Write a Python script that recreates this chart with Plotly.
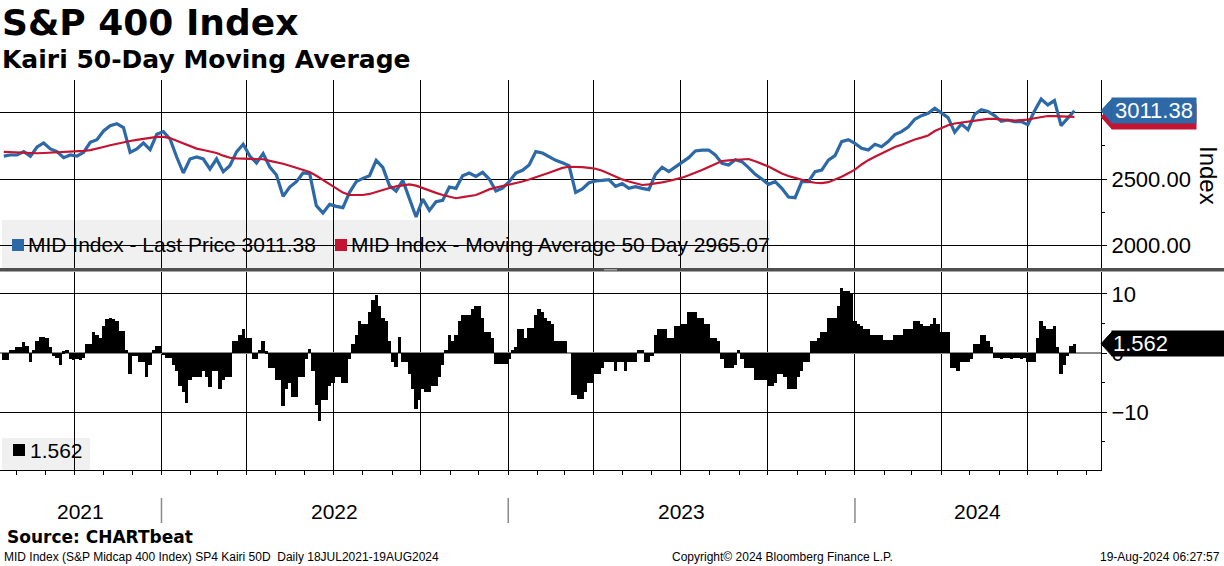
import pandas as pd
import plotly.graph_objects as go

# ---------------- data ----------------
# weekly samples of the index and its 50-day moving average
dates = pd.date_range(end="2024-08-19", periods=162, freq="7D")

price = [2672, 2680, 2680, 2705, 2670, 2740, 2770, 2725, 2705, 2660,
         2680, 2672, 2700, 2775, 2795, 2860, 2900, 2915, 2885, 2700,
         2725, 2770, 2720, 2835, 2855, 2800, 2665, 2545, 2650, 2665,
         2650, 2575, 2650, 2555, 2600, 2703, 2760, 2672, 2620, 2690,
         2590, 2530, 2370, 2440, 2480, 2545, 2540, 2300, 2245, 2310,
         2295, 2285, 2400, 2480, 2505, 2525, 2640, 2587, 2450, 2410,
         2490, 2350, 2215, 2350, 2265, 2330, 2340, 2440, 2430, 2525,
         2545, 2520, 2550, 2500, 2410, 2432, 2480, 2545, 2565, 2605,
         2705, 2695, 2670, 2640, 2622, 2600, 2400, 2425, 2472, 2485,
         2490, 2495, 2445, 2465, 2430, 2442, 2430, 2420, 2535, 2588,
         2555, 2592, 2625, 2660, 2710, 2717, 2717, 2680, 2617, 2605,
         2645, 2630, 2585, 2535, 2500, 2460, 2480, 2430, 2365, 2360,
         2480, 2480, 2555, 2567, 2642, 2675, 2780, 2795, 2767, 2730,
         2718, 2760, 2742, 2780, 2833, 2855, 2890, 2948, 2975, 2992,
         3030, 2995, 2960, 2850, 2912, 2870, 2985, 3020, 3007, 2975,
         2932, 2942, 2930, 2930, 2907, 3010, 3100, 3055, 3088, 2900,
         2960, 3011.38]

ma50 = [2703, 2700, 2697, 2695, 2692, 2693, 2695, 2697, 2698, 2700,
        2704, 2707, 2711, 2716, 2726, 2740, 2753, 2765, 2776, 2785,
        2793, 2801, 2808, 2815, 2815, 2807, 2787, 2766, 2745, 2728,
        2717, 2706, 2695, 2675, 2659, 2654, 2653, 2652, 2651, 2648,
        2636, 2626, 2614, 2599, 2584, 2569, 2552, 2524, 2494, 2465,
        2430, 2398, 2380, 2380, 2380, 2388, 2404, 2419, 2433, 2445,
        2454, 2460, 2450, 2430, 2412, 2396, 2380, 2366, 2356, 2364,
        2372, 2380, 2401, 2422, 2436, 2446, 2457, 2467, 2481, 2496,
        2511, 2530, 2547, 2565, 2583, 2592, 2592, 2589, 2583, 2577,
        2562, 2539, 2515, 2497, 2481, 2467, 2455, 2460, 2465, 2475,
        2485, 2495, 2510, 2528, 2546, 2567, 2590, 2612, 2635, 2639,
        2643, 2646, 2650, 2633, 2615, 2593, 2567, 2541, 2522, 2507,
        2494, 2480, 2472, 2469, 2476, 2495, 2517, 2543, 2570, 2609,
        2641, 2666, 2691, 2714, 2740, 2757, 2779, 2796, 2810, 2826,
        2860, 2884, 2903, 2916, 2923, 2930, 2938, 2945, 2950, 2950,
        2947, 2940, 2938, 2941, 2945, 2955, 2965, 2972, 2972, 2971,
        2968, 2965.07]

# half-weekly samples of the Kairi (% distance from the 50-day MA)
kairi_dates = pd.date_range(end="2024-08-19", periods=323, freq="84h")
kairi = [-1.2, -1.2, 0.5, 0.5, 1.0, 1.0, 1.8, 1.2, -1.5, 0.5,
         2.0, 2.8, 2.8, 2.5, 1.0, -0.5, -0.8, -2.0, 0.3, 0.5,
         -1.0, -1.2, -1.0, -1.2, -0.8, 1.5, 1.5, 3.5, 3.0, 2.5,
         4.5, 5.8, 6.0, 5.8, 5.5, 3.7, 3.7, 0.5, -3.5, -0.5,
         -0.5, -1.5, -1.5, -4.0, -2.0, 0.5, 1.2, 1.2, -0.3, -0.8,
         -0.8, -2.0, -3.0, -5.5, -6.5, -8.5, -4.5, -4.0, -4.0, -4.0,
         -3.0, -4.0, -5.8, -3.0, -3.0, -6.0, -4.5, -4.0, -4.0, 2.0,
         2.0, 3.0, 4.0, 2.5, 2.5, -1.0, -1.0, 0.5, 2.0, 0.3,
         -2.5, -2.5, -4.5, -4.5, -9.0, -6.0, -5.0, -7.5, -7.5, -4.0,
         -4.0, -1.0, 0.7, -3.0, -8.8, -11.5, -8.0, -8.0, -5.5, -5.0,
         -4.0, -4.0, -5.0, -5.0, -1.0, 1.5, 3.0, 5.5, 5.0, 5.0,
         7.0, 9.0, 9.8, 8.0, 6.0, 5.5, 2.0, -1.5, -2.3, 2.8,
         -1.5, -1.5, -3.5, -6.0, -9.5, -8.0, -6.0, -6.5, -6.5, -5.5,
         -5.5, -4.0, -2.0, 0.5, 3.0, 2.0, 3.0, 5.5, 6.5, 6.5,
         6.5, 7.5, 8.0, 8.0, 6.0, 3.5, 3.5, 2.5, -1.8, -1.8,
         -1.8, -1.8, -1.0, 0.5, 1.0, 4.0, 4.0, 2.5, 4.3, 4.3,
         6.5, 7.5, 7.0, 6.0, 5.5, 5.0, 2.0, 2.0, 2.0, 2.0,
         0.0, -7.0, -7.0, -7.8, -7.8, -6.5, -5.0, -5.0, -3.5, -3.5,
         -2.5, -1.5, -1.5, -1.5, -3.0, -1.5, -1.5, -3.0, -1.5, -1.5,
         -1.5, 0.5, 0.5, -1.5, -1.5, -0.5, 3.0, 4.0, 4.0, 4.0,
         2.5, 2.5, 4.5, 4.5, 5.0, 5.0, 7.0, 7.0, 7.0, 6.0,
         6.0, 5.0, 5.0, 2.5, 2.5, 2.0, -1.0, -2.5, -2.5, -2.5,
         -2.0, 0.5, -1.0, -2.5, -2.5, -2.5, -4.5, -4.5, -4.5, -4.5,
         -5.5, -5.5, -5.0, -3.5, -3.5, -4.0, -6.0, -6.0, -6.0, -4.0,
         -3.0, -1.5, -1.5, 2.0, 2.0, 2.5, 3.5, 3.5, 6.0, 6.0,
         6.0, 8.0, 11.0, 10.5, 10.5, 10.0, 5.5, 5.0, 4.5, 4.0,
         4.0, 3.0, 3.0, 3.0, 3.0, 2.2, 2.2, 2.2, 3.0, 3.0,
         3.0, 4.0, 4.0, 4.0, 5.5, 5.5, 5.0, 4.5, 4.5, 5.0,
         6.0, 5.0, 3.5, 3.5, 3.5, -2.5, -2.5, -3.0, -1.5, -1.5,
         -1.5, -1.0, 1.5, 1.5, 3.0, 3.0, 2.0, 1.0, -0.8, -0.8,
         -1.0, -0.8, -0.8, -1.0, -0.8, -0.8, -1.0, -0.8, -1.5, -1.5,
         -1.5, 2.5, 5.5, 4.5, 4.0, 4.0, 4.5, 1.0, -3.5, -2.0,
         -0.5, 1.2, 1.562]

years = [2021, 2022, 2023, 2024]
x_range = ["2021-07-15", "2024-09-16"]
price_ticks = [2000, 2500, 3000]
price_ticktext = ["2000.00", "2500.00", ""]   # 3000 label sits under the value tag
kairi_ticks = [-10, 0, 10]

title = "S&amp;P 400 Index"
subtitle = "Kairi 50-Day Moving Average"
source = "Source: CHARTbeat"
footer_left = "MID Index (S&amp;P Midcap 400 Index) SP4 Kairi 50D  Daily 18JUL2021-19AUG2024"
footer_mid = "Copyright\u00a9 2024 Bloomberg Finance L.P."
footer_right = "19-Aug-2024 06:27:57"

# ---------------- styling helpers ----------------
W, H = 1224, 566
def px(x):
    return x / W
def py(y):
    return 1 - y / H

BLUE = "#2c69a6"
RED = "#c31432"
SANS = "Liberation Sans"
BOLD = "DejaVu Sans"

fig = go.Figure()
fig.add_trace(go.Scatter(x=dates, y=price, mode="lines", line=dict(color=BLUE, width=3.2),
                         xaxis="x", yaxis="y"))
fig.add_trace(go.Scatter(x=dates, y=ma50, mode="lines", line=dict(color=RED, width=2.2),
                         xaxis="x", yaxis="y"))
fig.add_trace(go.Bar(x=kairi_dates, y=kairi, width=3.5 * 86400000,
                     marker=dict(color="black", line=dict(width=0)),
                     xaxis="x2", yaxis="y2"))

xcommon = dict(domain=[0, px(1101)], range=x_range, type="date", showgrid=True,
               gridcolor="black", gridwidth=1, dtick="M3", tick0="2021-01-01",
               showticklabels=False, zeroline=False)
tickfont = dict(family=SANS, size=22, color="black")

fig.update_layout(
    width=W, height=H, margin=dict(l=0, r=0, t=0, b=0),
    paper_bgcolor="white", plot_bgcolor="rgba(0,0,0,0)",
    showlegend=False, bargap=0, hovermode=False,
    xaxis=dict(anchor="y", ticks="", showline=False, **xcommon),
    xaxis2=dict(anchor="y2", ticks="outside", ticklen=4, tickcolor="black",
                showline=True, linecolor="black", linewidth=1,
                minor=dict(dtick="M1", tick0="2021-01-01", ticks="outside", ticklen=4,
                           tickcolor="black", showgrid=False),
                **xcommon),
    yaxis=dict(domain=[py(268), py(80)], anchor="x", side="right", range=[1833, 3242],
               tickvals=price_ticks, ticktext=price_ticktext, showgrid=True,
               gridcolor="black", gridwidth=1, zeroline=False, showline=True,
               linecolor="black", ticks="outside", ticklen=5, tickcolor="black",
               tickfont=tickfont,
               minor=dict(dtick=250, tick0=2000, ticks="outside", ticklen=3,
                          tickcolor="black", showgrid=False)),
    yaxis2=dict(domain=[py(470), py(272)], anchor="x2", side="right", range=[-19.75, 13.7],
                tickvals=kairi_ticks, showgrid=True, gridcolor="black", gridwidth=1,
                zeroline=True, zerolinecolor="#8a8a8a", zerolinewidth=2,
                showline=True, linecolor="black", ticks="outside", ticklen=5,
                tickcolor="black", tickfont=tickfont,
                minor=dict(dtick=5, tick0=0, ticks="outside", ticklen=3,
                           tickcolor="black", showgrid=False)),
)

shapes = []
# legend boxes
shapes.append(dict(type="rect", xref="paper", yref="paper", x0=px(2), x1=px(770),
                   y0=py(268), y1=py(220), fillcolor="#f0f0f0", line=dict(width=0),
                   layer="below"))
shapes.append(dict(type="rect", xref="paper", yref="paper", x0=px(2), x1=px(90),
                   y0=py(470), y1=py(438), fillcolor="#f0f0f0", line=dict(width=0),
                   layer="below"))
# legend colour keys
for x0, yc, col in [(12, 245, BLUE), (335, 245, RED), (13, 450, "black")]:
    shapes.append(dict(type="rect", xref="paper", yref="paper", x0=px(x0), x1=px(x0 + 12),
                       y0=py(yc + 6), y1=py(yc - 6), fillcolor=col, line=dict(width=0)))
# panel separator
shapes.append(dict(type="rect", xref="paper", yref="paper", x0=0, x1=1,
                   y0=py(271.5), y1=py(268), fillcolor="#4f4f4f", line=dict(width=0)))
shapes.append(dict(type="line", xref="paper", yref="paper", x0=px(604), x1=px(617),
                   y0=py(269.8), y1=py(269.8), line=dict(color="#c8c8c8", width=1)))
# year separators below the axis
for yr in years[1:]:
    shapes.append(dict(type="line", xref="x2", yref="paper", x0=f"{yr}-01-01", x1=f"{yr}-01-01",
                       y0=py(523), y1=py(498), line=dict(color="#8a8a8a", width=1.5)))
# tag pointers
for yval, yref, col in [(ma50[-1], "y", RED), (price[-1], "y", BLUE), (kairi[-1], "y2", "black")]:
    shapes.append(dict(type="path", xref="paper", yref=yref, xsizemode="pixel",
                       ysizemode="pixel", xanchor=px(1101), yanchor=yval,
                       path="M0,0 L11,12 L11,-12 Z", fillcolor=col,
                       line=dict(color=col, width=1)))
fig.update_layout(shapes=shapes)

ann = []
ann.append(dict(text=f"<b>{title}</b>", x=px(0), y=py(23), xref="paper", yref="paper",
                xanchor="left", yanchor="middle", showarrow=False,
                font=dict(family=BOLD, size=36, color="black")))
ann.append(dict(text=f"<b>{subtitle}</b>", x=px(0), y=py(60), xref="paper", yref="paper",
                xanchor="left", yanchor="middle", showarrow=False,
                font=dict(family=BOLD, size=25, color="black")))
legfont = dict(family=SANS, size=21, color="black")
ann.append(dict(text=f"MID Index - Last Price {price[-1]:.2f}",
                x=px(26), y=py(245), xref="paper", yref="paper", xanchor="left",
                yanchor="middle", showarrow=False, font=legfont))
ann.append(dict(text=f"MID Index - Moving Average 50 Day {ma50[-1]:.2f}",
                x=px(349), y=py(245), xref="paper", yref="paper", xanchor="left",
                yanchor="middle", showarrow=False, font=legfont))
ann.append(dict(text=f"{kairi[-1]:.3f}", x=px(28), y=py(450),
                xref="paper", yref="paper", xanchor="left", yanchor="middle",
                showarrow=False, font=legfont))
# value tags
tagfont = dict(family=SANS, size=22, color="white")
ann.append(dict(text="", x=px(1111), y=ma50[-1], xref="paper", yref="y",
                xanchor="left", yanchor="middle", showarrow=False, bgcolor=RED,
                borderpad=1, width=82, height=23, font=tagfont))
ann.append(dict(text=f"{price[-1]:.2f}", x=px(1111), y=price[-1], xref="paper", yref="y",
                xanchor="left", yanchor="middle", showarrow=False, bgcolor=BLUE,
                borderpad=1, width=82, height=23, font=tagfont))
ann.append(dict(text=f"{kairi[-1]:.3f}", x=px(1111), y=kairi[-1], xref="paper", yref="y2",
                xanchor="left", yanchor="middle", showarrow=False, bgcolor="black",
                borderpad=1, width=113, height=23, align="left", font=tagfont))
ann.append(dict(text="Index", x=px(1209), y=py(175), xref="paper", yref="paper",
                xanchor="center", yanchor="middle", textangle=90, showarrow=False,
                font=dict(family=SANS, size=24, color="black")))
# year labels centred in each visible year span
start, end = pd.Timestamp(x_range[0]), pd.Timestamp(x_range[1])
for yr in years:
    a = max(start, pd.Timestamp(f"{yr}-01-01"))
    b = min(end, pd.Timestamp(f"{yr + 1}-01-01"))
    mid = a + (b - a) / 2
    ann.append(dict(text=str(yr), x=mid, y=py(511), xref="x2", yref="paper",
                    xanchor="center", yanchor="middle", showarrow=False,
                    font=dict(family=SANS, size=21, color="black")))
ann.append(dict(text=f"<b>{source}</b>", x=px(5), y=py(537), xref="paper", yref="paper",
                xanchor="left", yanchor="middle", showarrow=False,
                font=dict(family=BOLD, size=17, color="black")))
ffont = dict(family=SANS, size=12, color="black")
ann.append(dict(text=footer_left, x=px(2), y=py(557), xref="paper", yref="paper",
                xanchor="left", yanchor="middle", showarrow=False, font=ffont))
ann.append(dict(text=footer_mid, x=px(783), y=py(557), xref="paper", yref="paper",
                xanchor="center", yanchor="middle", showarrow=False, font=ffont))
ann.append(dict(text=footer_right, x=px(1222), y=py(557), xref="paper", yref="paper",
                xanchor="right", yanchor="middle", showarrow=False, font=ffont))
fig.update_layout(annotations=ann)

fig.write_html("out.html", config={"displayModeBar": False},
               post_script="document.body.style.margin='0px';document.body.style.overflow='hidden';")
